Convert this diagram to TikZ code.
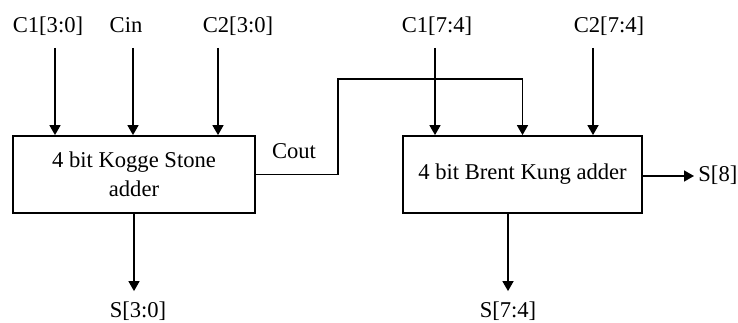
\documentclass[tikz,border=0pt]{standalone}
\usepackage{fontspec}
\setmainfont{Liberation Serif}
\usetikzlibrary{arrows.meta,positioning,calc}

\begin{document}
\begin{tikzpicture}[
  x=0.5pt, y=-0.5pt,
  font=\fontsize{11.3}{14.5}\selectfont,
  adder/.style={draw, line width=0.9pt, align=center, inner sep=4pt,
    minimum width=121pt, minimum height=38.5pt},
  sig/.style={inner sep=5pt, text height=8pt, text depth=2.5pt},
  arr/.style={-{Triangle[length=5pt, width=5.5pt]}, line width=0.8pt}
]
\useasboundingbox (0,0) rectangle (738,322);

\node[adder] (ks) at (134,174.5) {4 bit Kogge Stone\\adder};
\node[adder, minimum width=119.5pt] (bk) at (522.5,174.5) {4 bit Brent Kung adder};

\node[sig] (c1lo) at (48,27) {C1[3:0]};
\node[sig] (cin) at (126,27) {Cin};
\node[sig] (c2lo) at (238,27) {C2[3:0]};
\node[sig] (c1hi) at (437,27) {C1[7:4]};
\node[sig] (c2hi) at (609,27) {C2[7:4]};

\node[sig] (cout) at (294,153) {Cout};
\node[sig] (s30) at (138,312) {S[3:0]};
\node[sig] (s74) at (508,312) {S[7:4]};
\node[sig, inner sep=2pt, anchor=west] (s8) at (694,176) {S[8]};

\coordinate (cbend) at (338,79);

\draw[arr] ([xshift=3.5pt]c1lo.south) -- ([xshift=3.5pt]c1lo.south |- ks.north);
\draw[arr] ([xshift=3.5pt]cin.south) -- ([xshift=3.5pt]cin.south |- ks.north);
\draw[arr] ([xshift=-10pt]c2lo.south) -- ([xshift=-10pt]c2lo.south |- ks.north);
\draw[arr] ([xshift=-1pt]c1hi.south) -- ([xshift=-1pt]c1hi.south |- bk.north);
\draw[arr] ([xshift=-8pt]c2hi.south) -- ([xshift=-8pt]c2hi.south |- bk.north);

\draw[arr] (ks.east) -| (cbend) -| (bk.north);

\draw[arr] (ks.south) -- (ks.south |- s30.north);
\draw[arr] (s74.north |- bk.south) -- (s74.north);
\draw[arr] (bk.east |- s8.west) -- (s8.west);

\end{tikzpicture}
\end{document}
